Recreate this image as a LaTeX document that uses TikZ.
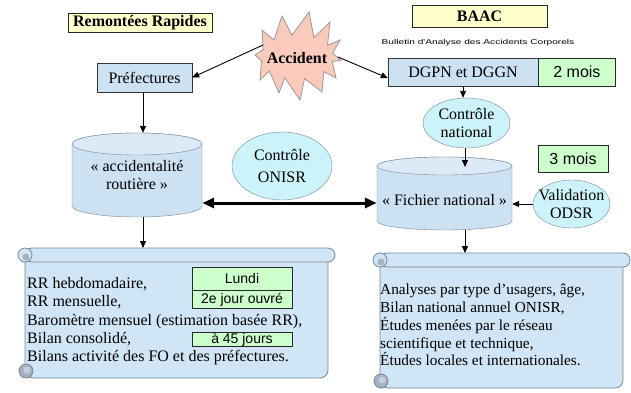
\documentclass[tikz,border=0pt]{standalone}
\usepackage{fontspec}
\setmainfont{Liberation Serif}
\setsansfont{Liberation Sans}
\newfontfamily\bulletinfont[FakeStretch=1.45]{Liberation Sans}
\usetikzlibrary{arrows.meta,shapes.geometric}

\definecolor{headfill}{RGB}{255,255,204}
\definecolor{boxfill}{RGB}{204,225,242}
\definecolor{scrollfill}{RGB}{208,229,245}
\definecolor{scrolledge}{RGB}{120,135,150}
\definecolor{curlfill}{RGB}{165,178,192}
\definecolor{ctrlfill}{RGB}{204,242,250}
\definecolor{delayfill}{RGB}{204,255,204}
\definecolor{burstfill}{RGB}{250,202,188}
\definecolor{burstedge}{RGB}{160,150,150}

\newcommand{\sizebig}{\fontsize{16}{18}\selectfont}
\newcommand{\sizemid}{\fontsize{14}{16}\selectfont}

% cylinder: centre x, centre y, half width, half height, cap radius
\newcommand{\database}[5]{%
  \begin{scope}[shift={(#1,#2)}]
    \filldraw[dbline] (-#3,{-#4+#5}) -- (-#3,{#4-#5})
      arc[start angle=180,end angle=0,x radius=#3,y radius=#5]
      -- (#3,{-#4+#5})
      arc[start angle=0,end angle=-180,x radius=#3,y radius=#5] -- cycle;
    \filldraw[dbline,fill=boxfill!70!white] (0,{-#4+#5}) ellipse[x radius=#3,y radius=#5];
  \end{scope}}

% scroll: left, top, right, bottom
\newcommand{\parchemin}[4]{%
  \filldraw[scrollline,rounded corners=8] ({#1+7},{#2+7}) rectangle ({#3-7},{#4});
  \filldraw[scrollline,rounded corners=7] ({#1+7},{#2}) rectangle ({#3},{#2+14});
  \filldraw[scrollline] ({#1+7},{#2+7}) circle[radius=7];
  \fill[curlfill] ({#1+8},{#2+9}) circle[radius=3.5];
  \filldraw[scrollline,fill=curlfill] ({#1+8},{#4-7}) circle[radius=7];
  \fill[scrollfill!60!curlfill] ({#1+9},{#4-8}) circle[radius=3.5];}

\begin{document}
\begin{tikzpicture}[x=1pt,y=-1pt,
    headbox/.style={draw=black!85,fill=headfill,font=\sizebig\bfseries,inner sep=0pt},
    bluebox/.style={draw=black!80,fill=boxfill,font=\sizebig,inner sep=0pt},
    delaybox/.style={draw=black!85,fill=delayfill,font=\sffamily\sizemid,inner sep=0.5pt},
    ctrl/.style={ellipse,draw=scrolledge,fill=ctrlfill,inner sep=0pt},
    ctrltext/.style={font=\sizebig,align=center,inner sep=0pt},
    dbline/.style={draw=scrolledge,fill=boxfill},
    dbtext/.style={font=\sizebig,align=center,inner sep=0pt},
    scrollline/.style={draw=scrolledge,fill=scrollfill,line width=0.8pt},
    burst/.style={draw=burstedge,fill=burstfill,line width=0.8pt},
    listtext/.style={align=left,inner sep=0pt,anchor=north west},
    flow/.style={-{Triangle[length=7pt,width=6pt]},line width=0.9pt},
    biflow/.style={{Triangle[length=12pt,width=10pt]}-{Triangle[length=12pt,width=10pt]},line width=3pt}]
  \useasboundingbox (0,0) rectangle (631,392);

  % titles
  \node[headbox,minimum width=144,minimum height=19] (rr) at (140,22.5) {Remontées Rapides};
  \node[headbox,minimum width=135,minimum height=22] (baac) at (479.5,16) {BAAC};
  \node[font=\bulletinfont\fontsize{7}{8}\selectfont,inner sep=0pt] (bulletin) at (478,43) {Bulletin d'Analyse des Accidents Corporels};

  % accident
  \filldraw[burst] (341,60) -- (332.2,61.6) -- (336,78) -- (323.8,71.7) -- (322,92)
    -- (304.5,78.5) -- (300,100) -- (284.7,77.7) -- (279,93) -- (269.4,71.1)
    -- (260,80) -- (261.5,60.8) -- (255,55) -- (263.2,49.5) -- (262,30)
    -- (273.9,40.1) -- (282,16) -- (292,35.2) -- (309,12) -- (313.9,37.6)
    -- (330,22) -- (327.5,45.3) -- (340,40) -- (332.5,53.2) -- cycle;
  \node[font=\sizebig\bfseries,inner sep=0pt] (accident) at (297,58) {Accident};
  \coordinate (burstL) at (263,45);
  \coordinate (burstR) at (338,57);

  % first row
  \node[bluebox,minimum width=95,minimum height=29] (pref) at (144.5,77.5) {Préfectures};
  \node[bluebox,minimum width=150,minimum height=28] (dg) at (463,72) {DGPN et DGGN};
  \node[delaybox,font=\sffamily\sizebig,minimum width=77,minimum height=28,anchor=west] (deux) at (dg.east) {2 mois};

  % bases
  \database{137}{175}{65}{42}{11}
  \node[dbtext,minimum width=130,minimum height=84] (acc) at (137,175) {« accidentalité\\routière »};
  \database{444.5}{193.5}{67.5}{36.5}{9}
  \node[dbtext,minimum width=135,minimum height=73] (fich) at (444.5,193.5) {};
  \node[dbtext] (fich-t) at (444.5,200) {« Fichier national »};

  % controls
  \node[ctrl,minimum width=100,minimum height=68] (onisr) at (282,166) {};
  \node[ctrltext,font=\fontsize{16}{22}\selectfont] (onisr-t) at (onisr) {Contrôle\\ONISR};
  \node[ctrl,minimum width=87,minimum height=50] (nat) at (466.5,123) {};
  \node[ctrltext] (nat-t) at (nat) {Contrôle\\national};
  \node[ctrl,minimum width=77,minimum height=48] (odsr) at (571.5,204) {};
  \node[ctrltext] (odsr-t) at (odsr) {Validation\\ODSR};
  \node[delaybox,font=\sffamily\sizebig,minimum width=70,minimum height=27] (trois) at (573,158.5) {3 mois};

  % results
  \parchemin{18}{248}{335}{378}
  \parchemin{373}{253}{630}{388}
  \coordinate (rollL) at (143,248);
  \coordinate (rollR) at (465,253);
  \coordinate (fcap) at (465,167);
  \coordinate (lvl) at (0,203);

  \node[listtext,font=\fontsize{16}{18.1}\selectfont] (rr-list) at (27,277.5)
    {RR hebdomadaire,\\RR mensuelle,\\Baromètre mensuel (estimation basée RR),\\Bilan consolidé,\\Bilans activité des FO et des préfectures.};
  \node[delaybox,minimum width=100,minimum height=23] (lundi) at (242,278.5) {Lundi};
  \node[delaybox,minimum width=100,minimum height=18,anchor=north] (ouvre) at (lundi.south) {2e jour ouvré};
  \node[delaybox,minimum width=100,minimum height=14] (jours) at (242,339.5) {à 45 jours};

  \node[listtext,font=\fontsize{15.3}{17.9}\selectfont] (onisr-list) at (380,283.5)
    {Analyses par type d'usagers, âge,\\Bilan national annuel ONISR,\\Études menées par le réseau\\scientifique et technique,\\Études locales et internationales.};

  % arrows
  \draw[flow] (burstL) -- (pref.east);
  \draw[flow] (burstR) -- ([yshift=-6pt]dg.west);
  \draw[flow] (pref.south -| rollL) -- (acc.north -| rollL);
  \draw[flow] (acc.south -| rollL) -- (rollL);
  \draw[flow] (dg.south) -- (dg.south |- nat.north);
  \draw[flow] (nat.south -| fcap) -- (fcap);
  \draw[flow] (odsr.west) -- (fich.east |- odsr.west);
  \draw[flow] (fich.south -| rollR) -- (rollR);
  \draw[biflow] (acc.east |- lvl) -- (fich.west |- lvl);
\end{tikzpicture}
\end{document}
